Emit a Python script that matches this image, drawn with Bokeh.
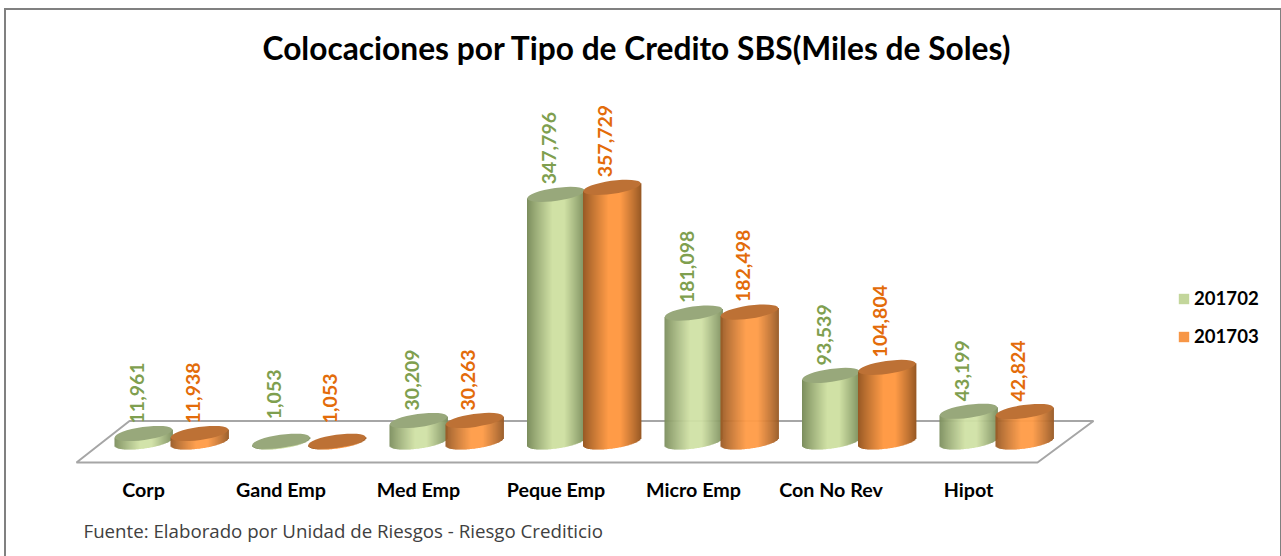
import math
from bokeh.plotting import figure
from bokeh.embed import file_html
from bokeh.resources import INLINE
from bokeh.core.properties import value
from bokeh.models import (ColumnDataSource, FixedTicker, InlineStyleSheet, Legend, LegendItem, Title)

categories = ["Corp", "Gand Emp", "Med Emp", "Peque Emp", "Micro Emp", "Con No Rev", "Hipot"]
serie_201702 = [11961, 1053, 30209, 347796, 181098, 93539, 43199]
serie_201703 = [11938, 1053, 30263, 357729, 182498, 104804, 42824]
label_nudge_201702 = [-10, -22, -10, -10, -10, -10, -10]
label_nudge_201703 = [-10, -18, -10, -10, -10, -10, -10]

W, H = 1281, 556
FRAME_TOP, FRAME_BOTTOM = 66, 466
PX_PER_CAT = 137.5
X0_PX = 143.0
BASE_PX = 441.5
PX_PER_VAL = 0.712 / 1000.0
RX, RY, TILT = 29.0, 6.5, math.radians(8)
OFFSET = 56.0 / PX_PER_CAT


def ydata(px):
    return (BASE_PX - px) / PX_PER_VAL


def xdata(px):
    return (px - X0_PX) / PX_PER_CAT


p = figure(width=W, height=H, output_backend="svg", toolbar_location=None,
           x_range=(xdata(0), xdata(W)), y_range=(ydata(FRAME_BOTTOM), ydata(FRAME_TOP)),
           min_border_left=0, min_border_right=0, min_border_top=FRAME_TOP, min_border_bottom=H - FRAME_BOTTOM,
           background_fill_color="white", border_fill_color="white", outline_line_color=None)
p.styles = {"position": "absolute", "left": "0px", "top": "0px"}
# frame around the whole chart (its lower edge lies beyond the picture)
p.stylesheets = [InlineStyleSheet(css=":host::after{content:'';position:absolute;left:4px;top:8px;width:1274px;"
                                      "height:548px;border:2px solid #808080;border-bottom:none;"
                                      "box-sizing:content-box;pointer-events:none;}")]
p.grid.visible = False
p.yaxis.visible = False

# title
p.title = Title(text="Colocaciones por Tipo de Credito SBS(Miles de Soles)", align="left", offset=262,
                text_font="Lato", text_font_size="31.7px", text_font_style="bold",
                text_color="#000000", standoff=0)

# category axis
ax = p.xaxis[0]
ax.ticker = FixedTicker(ticks=list(range(len(categories))))
ax.major_label_overrides = {i: c for i, c in enumerate(categories)}
ax.axis_line_color = None
ax.major_tick_line_color = None
ax.minor_tick_line_color = None
ax.major_label_text_font = "Lato"
ax.major_label_text_font_size = "19.7px"
ax.major_label_text_font_style = "bold"
ax.major_label_text_color = "#000000"
ax.major_label_standoff = 5

# footnote
p.add_layout(Title(text="Fuente: Elaborado por Unidad de Riesgos - Riesgo Crediticio", align="left",
                   text_font="Open Sans", text_font_size="18.7px", text_font_style="normal",
                   text_color="#404040", offset=83, standoff=24), "below")

# floor
floor_x = [xdata(v) for v in (76, 129, 1093, 1037)]
floor_y = [ydata(v) for v in (462, 420.5, 420.5, 462)]
p.patch(floor_x, floor_y, fill_color="white", line_color="#A6A6A6", line_width=2)


def mix(a, b, t):
    return "#%02x%02x%02x" % tuple(round(a[i] + (b[i] - a[i]) * t) for i in range(3))


def lower_arc(dx):
    """Screen drop of the tilted base ellipse's lower edge below its centre, at dx px from its centre."""
    c, s = math.cos(TILT), math.sin(TILT)
    A = (s / RX) ** 2 + (c / RY) ** 2
    B = 2 * dx * c * s * (1 / RX ** 2 - 1 / RY ** 2)
    C = (dx * c / RX) ** 2 + (dx * s / RY) ** 2 - 1
    D = max(B * B - 4 * A * C, 0.0)
    return (-B + math.sqrt(D)) / (2 * A)


def draw_series(values, offset, edge, light, cap):
    left, right, bottom, top, color = [], [], [], [], []
    n = 58
    for i, v in enumerate(values):
        cx = i + offset
        for k in range(n):
            d0 = -RX + 2 * RX * k / n
            d1 = -RX + 2 * RX * (k + 1) / n
            mid = (d0 + d1) / 2
            u = (mid + RX) / (2 * RX)
            t = 1 - abs(u - 0.55) / 0.55 if u < 0.55 else 1 - (u - 0.55) / 0.45
            t = min(1.0, (max(t, 0.0) * 1.25) ** 0.9)
            left.append(cx + d0 / PX_PER_CAT)
            right.append(cx + (d1 + 0.4) / PX_PER_CAT)
            bottom.append(-lower_arc(-mid) / PX_PER_VAL)
            top.append(v + mid * math.tan(TILT) / PX_PER_VAL)
            color.append(mix(edge, light, t))
    p.quad(left=left, right=right, bottom=bottom, top=top, fill_color=color, line_color=None)
    p.ellipse(x=[i + offset for i in range(len(values))], y=values, width=2 * RX, height=2 * RY,
              width_units="screen", height_units="screen", angle=TILT, fill_color=cap, line_color=None)


draw_series(serie_201702, 0.0, (122, 140, 92), (208, 225, 165), "#98A87B")
draw_series(serie_201703, OFFSET, (150, 88, 36), (255, 155, 71), "#BD7135")


def draw_labels(values, nudges, offset, color):
    src = ColumnDataSource(dict(x=[i + offset for i in range(len(values))], y=values,
                                t=[f"{v:,}" for v in values], n=nudges))
    p.text(x="x", y="y", text="t", y_offset="n", x_offset=-7, angle=math.pi / 2, source=src,
           text_align="left", text_baseline="middle", text_color=color,
           text_font=value("Lato"), text_font_size="19.5px", text_font_style="bold")


draw_labels(serie_201702, label_nudge_201702, 0.0, "#7F9F4F")
draw_labels(serie_201703, label_nudge_201703, OFFSET, "#E36C0A")

# legend
nan = float("nan")
k1 = p.quad(left=[nan], right=[nan], bottom=[nan], top=[nan], fill_color="#C3D69B", line_color=None)
k2 = p.quad(left=[nan], right=[nan], bottom=[nan], top=[nan], fill_color="#F79646", line_color=None)
legend = Legend(items=[LegendItem(label="201702", renderers=[k1]), LegendItem(label="201703", renderers=[k2])],
                location=(1177, 466 - 347), orientation="vertical", background_fill_alpha=0, border_line_color=None,
                padding=0, margin=0, spacing=16, glyph_width=13, glyph_height=13, label_standoff=4,
                label_text_font="Lato", label_text_font_size="18.6px", label_text_font_style="bold",
                label_text_color="#000000", label_height=20)
p.add_layout(legend, "center")

open("out.html", "w").write(file_html(p, INLINE))
